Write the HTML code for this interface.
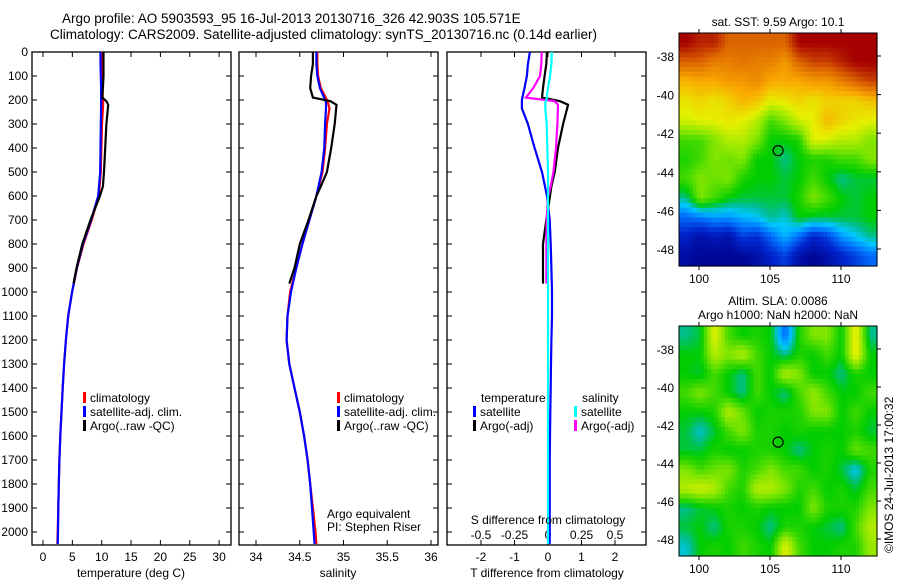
<!DOCTYPE html>
<html><head><meta charset="utf-8"><style>
body{margin:0;background:#fff;}
svg{display:block;font-family:"Liberation Sans",sans-serif;}
text{font-size:12px;fill:#000;}
</style></head><body>
<svg id="fig" width="900" height="580" viewBox="0 0 900 580">
<text x="62" y="23" style="font-size:13.5px">Argo profile: AO 5903593_95 16-Jul-2013 20130716_326 42.903S 105.571E</text>
<text x="50" y="39" style="font-size:13.5px">Climatology: CARS2009. Satellite-adjusted climatology: synTS_20130716.nc (0.14d earlier)</text>
<g id="g"></g>
</svg>
<script>
const depths=[0,50,100,150,200,210,235,300,400,500,600,700,800,900,1000,1100,1200,1300,1400,1500,1600,1700,1800,1900,2000,2050];
const climT=[10,10,10.05,10.1,10.2,10.25,10.2,10.05,9.95,9.85,9.5,8.3,6.9,5.8,4.95,4.3,3.9,3.6,3.35,3.15,2.95,2.8,2.7,2.6,2.5,2.45];
const satT=[9.8,9.8,9.85,9.9,9.9,9.9,9.9,9.85,9.8,9.75,9.4,8.2,6.8,5.75,4.95,4.3,3.9,3.6,3.35,3.15,2.95,2.8,2.7,2.6,2.55,2.5];
const argoDepths=[0,50,100,150,190,205,220,300,400,500,560,600,700,800,900,965];
const argoT=[10.3,10.3,10.3,10.2,10.1,10.8,11.1,10.8,10.6,10.4,10.2,9.7,8.1,6.7,5.7,5.2];
const climS=[34.7,34.7,34.71,34.74,34.81,34.82,34.84,34.81,34.79,34.76,34.69,34.61,34.53,34.46,34.39,34.36,34.35,34.38,34.44,34.5,34.55,34.59,34.62,34.65,34.68,34.69];
const satS=[34.69,34.69,34.7,34.73,34.79,34.8,34.8,34.79,34.78,34.75,34.69,34.61,34.53,34.46,34.4,34.36,34.35,34.38,34.44,34.5,34.55,34.59,34.62,34.64,34.66,34.67];
const argoS=[34.65,34.65,34.63,34.62,34.65,34.85,34.92,34.9,34.86,34.81,34.74,34.69,34.6,34.5,34.44,34.38];
const dT_sat=[-0.54,-0.6,-0.63,-0.7,-0.78,-0.78,-0.78,-0.6,-0.4,-0.18,-0.03,0.05,0.08,0.1,0.12,0.12,0.1,0.09,0.08,0.07,0.06,0.05,0.05,0.05,0.05,0.05];
const dT_argo=[-0.03,-0.05,-0.1,-0.15,-0.18,0.36,0.6,0.45,0.3,0.2,0.1,0.06,-0.05,-0.15,-0.15,-0.15];
const dS_sat=[0.028,0.025,0.015,0.0,-0.012,-0.02,-0.02,-0.01,-0.005,0.0,0.0,0.0,0.0,0.0,0.0,0.0,0.0,0.0,0.0,0.0,0.0,0.0,0.0,0.0,0.0,0.0];
const dS_argo=[-0.047,-0.05,-0.06,-0.11,-0.165,0.05,0.075,0.07,0.06,0.04,0.02,0.0,-0.01,-0.012,-0.012,-0.012];
const depthTicks=[0,100,200,300,400,500,600,700,800,900,1000,1100,1200,1300,1400,1500,1600,1700,1800,1900,2000];
const tTicks=[0,5,10,15,20,25,30];
const sTicks=[34,34.5,35,35.5,36];
const dTTicks=[-2,-1,0,1,2];
const dSTicks=[-0.5,-0.25,0,0.25,0.5];
const lonTicks=[100,105,110];
const latTicks=[-38,-40,-42,-44,-46,-48];
const sstGrid=[
[1,.95,.95,.85,.85,.85,.85,.85,1,1,1,1,1,1],
[.85,.85,.8,.8,.82,.8,.8,.75,.85,.9,.9,.95,1,1],
[.7,.72,.72,.75,.75,.78,.72,.72,.72,.75,.75,.8,.85,.9],
[.62,.65,.62,.65,.7,.68,.6,.62,.65,.62,.65,.65,.65,.68],
[.58,.6,.6,.62,.6,.55,.45,.5,.58,.6,.7,.65,.62,.6],
[.45,.45,.5,.55,.55,.5,.4,.4,.42,.6,.58,.55,.55,.5],
[.42,.45,.5,.48,.5,.4,.4,.35,.4,.42,.42,.45,.45,.5],
[.45,.5,.48,.5,.42,.4,.4,.38,.4,.45,.4,.35,.38,.38],
[.35,.5,.45,.4,.38,.38,.38,.38,.42,.5,.45,.4,.38,.4],
[.2,.22,.25,.25,.28,.3,.35,.32,.4,.38,.38,.38,.38,.4],
[.1,.05,.08,.05,.15,.12,.2,.28,.2,.1,.15,.25,.3,.35],
[.04,.02,.02,.02,.02,.05,.1,.15,.05,.02,.05,.1,.15,.2]];
const slaGrid=[
[.35,.38,.6,.45,.4,.42,.4,.2,.42,.5,.5,.4,.62,.35],
[.4,.4,.55,.5,.55,.45,.4,.35,.42,.4,.45,.4,.62,.4],
[.4,.38,.45,.4,.35,.45,.4,.55,.5,.4,.4,.35,.42,.4],
[.45,.5,.45,.4,.35,.45,.4,.35,.45,.52,.45,.4,.4,.45],
[.4,.4,.42,.55,.48,.4,.42,.42,.42,.5,.5,.4,.45,.4],
[.38,.32,.38,.45,.5,.42,.42,.4,.42,.4,.4,.4,.42,.38],
[.38,.38,.42,.4,.4,.42,.42,.4,.35,.4,.42,.4,.48,.45],
[.5,.45,.48,.5,.42,.45,.5,.45,.45,.4,.42,.38,.3,.42],
[.55,.58,.55,.45,.42,.55,.55,.5,.42,.45,.4,.42,.38,.45],
[.35,.38,.4,.42,.4,.42,.4,.4,.4,.5,.42,.42,.42,.5],
[.38,.4,.35,.42,.42,.4,.35,.42,.42,.4,.38,.35,.45,.55],
[.32,.4,.42,.4,.45,.42,.4,.6,.45,.4,.4,.42,.42,.52]];
const argoLon=105.571, argoLat=-42.903;

const NS='http://www.w3.org/2000/svg';
const G=document.getElementById('g');
function mk(t,a,p){const e=document.createElementNS(NS,t);for(const k in a)e.setAttribute(k,a[k]);(p||G).appendChild(e);return e;}
const Y=d=>52+d*0.24;
const PB=545;
function panel(x0,x1,name){
  const r=mk('rect',{x:x0,y:52,width:x1-x0,height:PB-52,fill:'none',stroke:'#000','stroke-width':1.3});
  
  
  depthTicks.forEach(d=>{mk('line',{x1:x0,x2:x0+5,y1:Y(d),y2:Y(d),stroke:'#000'});mk('line',{x1:x1-5,x2:x1,y1:Y(d),y2:Y(d),stroke:'#000'});});
}
function xt(sc,ticks,x0,x1,ly,fmt){ticks.forEach(v=>{const x=sc(v);mk('line',{x1:x,x2:x,y1:52,y2:57,stroke:'#000'});mk('line',{x1:x,x2:x,y1:PB-5,y2:PB,stroke:'#000'});const t=mk('text',{x:x,y:ly,'text-anchor':'middle'});t.textContent=fmt?fmt(v):v;

});}
function line(sc,vals,ds,col,w,name){const p=vals.map((v,i)=>sc(v).toFixed(1)+','+Y(ds[i]).toFixed(1)).join(' ');const e=mk('polyline',{points:p,fill:'none',stroke:col,'stroke-width':w});

}
function txt(x,y,s,name,extra){const t=mk('text',Object.assign({x:x,y:y},extra||{}));t.textContent=s;

return t;}
function leg(x,y,col,s){mk('rect',{x:x,y:y-10,width:3,height:11,fill:col});txt(x+7,y,s,'legend-entry');}

// panel 1
const sxT=v=>43+v*5.87;
panel(32,231,'temperature-panel');
depthTicks.forEach(d=>{txt(28,Y(d)+4,String(d),'y-tick-label',{'text-anchor':'end'});});
xt(sxT,tTicks,32,231,561);
line(sxT,climT,depths,'#f00',2.2,'temp-climatology-line');
line(sxT,satT,depths,'#00f',2.2,'temp-satellite-line');
line(sxT,argoT,argoDepths,'#000',2.2,'temp-argo-line');
txt(131,577,'temperature (deg C)','x-axis-title',{'text-anchor':'middle'});
leg(83,402,'#f00','climatology');leg(83,416,'#00f','satellite-adj. clim.');leg(83,430,'#000','Argo(..raw -QC)');

// panel 2
const sxS=v=>256+(v-34)*87.5;
panel(239,438,'salinity-panel');
xt(sxS,sTicks,239,438,561);
line(sxS,climS,depths,'#f00',2.2,'sal-climatology-line');
line(sxS,satS,depths,'#00f',2.2,'sal-satellite-line');
line(sxS,argoS,argoDepths,'#000',2.2,'sal-argo-line');
txt(338,577,'salinity','x-axis-title',{'text-anchor':'middle'});
leg(337,402,'#f00','climatology');leg(337,416,'#00f','satellite-adj. clim.');leg(337,430,'#000','Argo(..raw -QC)');
txt(327,518,'Argo equivalent','note');txt(327,531,'PI: Stephen Riser','note');

// panel 3
const sxD=v=>548+v*33.5;
const sxDS=v=>548+v*134;
panel(447,646,'difference-panel');
xt(sxD,dTTicks,447,646,561);
dSTicks.forEach(v=>txt(sxDS(v),539,String(v),'s-tick-label',{'text-anchor':'middle'}));
line(sxD,dT_sat,depths,'#00f',2.2,'dT-satellite-line');
line(sxD,dT_argo,argoDepths,'#000',2.2,'dT-argo-line');
line(sxDS,dS_argo,argoDepths,'#f0f',2.2,'dS-argo-line');
line(sxDS,dS_sat,depths,'#0ff',2.2,'dS-satellite-line');
txt(547,577,'T difference from climatology','x-axis-title',{'text-anchor':'middle'});
txt(548,524,'S difference from climatology','s-axis-title',{'text-anchor':'middle'});
txt(481,402,'temperature','legend-heading');txt(582,402,'salinity','legend-heading');
leg(473,416,'#00f','satellite');leg(473,430,'#000','Argo(-adj)');
leg(574,416,'#0ff','satellite');leg(574,430,'#f0f','Argo(-adj)');

// maps
const stops=[[0,[0,0,138]],[.12,[0,40,210]],[.22,[0,120,255]],[.3,[0,200,255]],[.35,[0,190,140]],[.4,[0,205,0]],[.5,[130,230,0]],[.6,[230,240,0]],[.72,[250,170,0]],[.85,[220,100,0]],[1,[165,0,0]]];
function col(v){for(let i=1;i<stops.length;i++){if(v<=stops[i][0]){const a=stops[i-1],b=stops[i],t=(v-a[0])/(b[0]-a[0]);return 'rgb('+a[1].map((c,k)=>Math.round(c+(b[1][k]-c)*t)).join(',')+')';}}return 'rgb(165,0,0)';}
function sample(grid,r,c){const R=grid.length,C=grid[0].length;r=Math.max(0,Math.min(R-1,r));c=Math.max(0,Math.min(C-1,c));const r0=Math.floor(r),c0=Math.floor(c),r1=Math.min(R-1,r0+1),c1=Math.min(C-1,c0+1),fr=r-r0,fc=c-c0;
return grid[r0][c0]*(1-fr)*(1-fc)+grid[r0][c1]*(1-fr)*fc+grid[r1][c0]*fr*(1-fc)+grid[r1][c1]*fr*fc;}
function map(top,bot,grid,name,titles){
  const x0=679,x1=877;
  const lx=v=>699+(v-100)*14.2;
  const ly=v=>top+23+(-38-v)*((bot-top-40)/10);
  const gr=mk('g',{});
  
  
  const rows=grid.length,cols=grid[0].length,S=4,cw=(x1-x0)/(cols*S),ch=(bot-top)/(rows*S);
  for(let r=0;r<rows*S;r++)for(let c=0;c<cols*S;c++){const v=sample(grid,(r+0.5)/S-0.5,(c+0.5)/S-0.5);mk('rect',{x:(x0+c*cw).toFixed(2),y:(top+r*ch).toFixed(2),width:(cw+0.6).toFixed(2),height:(ch+0.6).toFixed(2),fill:col(v)},gr);}
  mk('rect',{x:x0,y:top,width:x1-x0,height:bot-top,fill:'none',stroke:'#000','stroke-width':1});
  lonTicks.forEach(v=>{const x=lx(v);mk('line',{x1:x,x2:x,y1:top-4,y2:top,stroke:'#000'});mk('line',{x1:x,x2:x,y1:bot,y2:bot+4,stroke:'#000'});txt(x,bot+17,String(v),'lon-tick-label',{'text-anchor':'middle'});});
  latTicks.forEach(v=>{const y=ly(v);mk('line',{x1:x1,x2:x1+4,y1:y,y2:y,stroke:'#000'});txt(674,y+5,String(v),'lat-tick-label',{'text-anchor':'end'});});
  const c=mk('circle',{cx:lx(argoLon),cy:ly(argoLat),r:5,fill:'none',stroke:'#000','stroke-width':1.2});
  
  
  titles.forEach((s,i)=>txt(778,top-(titles.length-1-i)*14-7,s,'map-title',{'text-anchor':'middle'}));
}
map(33,266,sstGrid,'sst-map',['sat. SST: 9.59 Argo: 10.1']);
map(326,556,slaGrid,'sla-map',['Altim. SLA: 0.0086','Argo h1000: NaN h2000: NaN']);
txt(0,0,'©IMOS 24-Jul-2013 17:00:32','imos-stamp',{transform:'translate(893,553) rotate(-90)'});
</script>
</body></html>
